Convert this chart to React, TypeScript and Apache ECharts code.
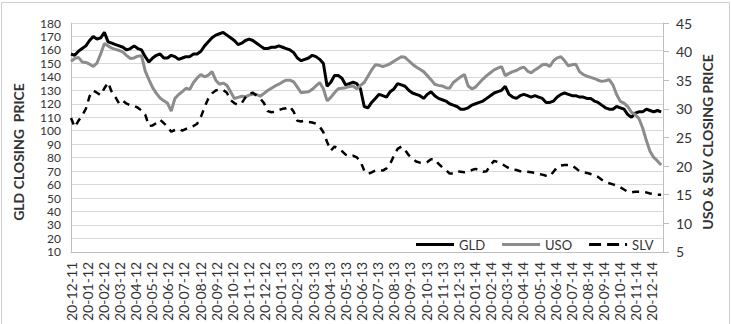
import React, { useEffect, useRef } from "react";
import * as echarts from "echarts";

// Tick labels (DD-MM-YY), one per month
const X_LABELS = [
  "20-12-11", "20-01-12", "20-02-12", "20-03-12", "20-04-12", "20-05-12", "20-06-12",
  "20-07-12", "20-08-12", "20-09-12", "20-10-12", "20-11-12", "20-12-12", "20-01-13",
  "20-02-13", "20-03-13", "20-04-13", "20-05-13", "20-06-13", "20-07-13", "20-08-13",
  "20-09-13", "20-10-13", "20-11-13", "20-12-13", "20-01-14", "20-02-14", "20-03-14",
  "20-04-14", "20-05-14", "20-06-14", "20-07-14", "20-08-14", "20-09-14", "20-10-14",
  "20-11-14", "20-12-14",
];

// Weekly closing prices starting 20 Dec 2011
const GLD = [
  157, 156, 159, 161, 163, 167, 170, 168, 169, 173,
  166, 165, 164, 163, 162, 160, 161, 163, 161, 160,
  155, 151, 154, 156, 157, 154, 154, 156, 155, 153,
  154, 155, 155, 157, 157, 159, 163, 166, 169, 171,
  172, 173, 171, 169, 167, 164, 165, 167, 168, 167,
  165, 163, 161, 161, 162, 162, 163, 162, 161, 160,
  158, 154, 152, 153, 154, 156, 155, 153, 150, 133,
  136, 141, 141, 139, 134, 135, 136, 135, 131, 118,
  117, 121, 124, 127, 126, 125, 129, 131, 135, 134,
  133, 130, 128, 127, 126, 124, 127, 129, 126, 124,
  123, 122, 120, 119, 118, 116, 116, 117, 119, 120,
  121, 122, 124, 126, 128, 129, 130, 133, 127, 125,
  124, 126, 127, 126, 125, 126, 125, 124, 121, 121,
  122, 125, 127, 128, 127, 126, 126, 125, 125, 124,
  124, 122, 121, 119, 117, 116, 116, 118, 117, 116,
  112, 110, 113, 114, 114, 116, 115, 114, 115, 114,
];

const USO = [
  38.3, 38.8, 39.0, 38.2, 38.1, 37.8, 37.4, 38.0, 39.6, 41.4,
  41.0, 40.6, 40.4, 40.2, 39.9, 39.3, 38.8, 38.9, 39.2, 39.3,
  36.6, 35.1, 33.7, 32.7, 31.9, 31.4, 31.0, 29.6, 31.8, 32.5,
  33.0, 33.6, 33.4, 34.6, 35.4, 36.0, 35.6, 35.9, 36.5, 35.0,
  34.3, 34.5, 34.1, 33.0, 31.8, 32.0, 32.2, 32.1, 32.4, 32.6,
  32.5, 32.2, 32.7, 33.2, 33.6, 34.0, 34.3, 34.7, 35.0, 35.0,
  34.7, 33.8, 32.8, 32.9, 33.0, 33.4, 34.0, 34.6, 33.5, 31.4,
  32.0, 32.8, 33.5, 33.6, 33.7, 33.9, 34.0, 33.5, 34.1, 34.6,
  35.7, 36.8, 37.7, 37.6, 37.4, 37.6, 37.9, 38.3, 38.7, 39.1,
  39.0, 38.4, 37.8, 37.3, 36.9, 36.5, 35.8, 35.1, 34.3, 34.1,
  34.0, 33.7, 33.6, 34.6, 35.1, 35.6, 36.0, 34.0, 33.5, 33.8,
  34.5, 35.2, 35.8, 36.3, 36.8, 37.1, 37.4, 35.8, 36.2, 36.5,
  36.7, 37.1, 37.3, 36.6, 36.3, 36.8, 37.2, 37.7, 37.8, 37.4,
  38.4, 38.9, 39.1, 38.4, 37.5, 37.7, 37.8, 36.5, 36.0, 35.7,
  35.5, 35.3, 35.0, 34.8, 34.9, 35.1, 34.2, 32.5, 31.3, 31.0,
  30.4, 29.4, 29.0, 28.3, 26.7, 24.5, 22.6, 21.5, 20.9, 20.2,
];

const SLV = [
  28.4, 26.8, 27.9, 28.8, 30.0, 32.2, 33.2, 32.8, 32.4, 33.6,
  34.6, 32.9, 32.0, 30.9, 31.4, 30.9, 30.6, 30.5, 30.2, 29.7,
  29.0, 27.0, 27.1, 27.5, 28.1, 27.5, 26.9, 26.0, 26.3, 26.5,
  26.2, 26.5, 26.8, 27.0, 27.4, 28.6, 30.3, 31.8, 32.7, 33.2,
  33.4, 33.3, 32.8, 31.5, 31.0, 30.7, 31.0, 32.0, 32.7, 32.8,
  32.3, 31.8, 31.0, 29.6, 29.4, 29.5, 29.8, 30.0, 30.1, 30.4,
  29.5, 27.9, 27.8, 27.9, 27.7, 27.6, 27.4, 26.9, 25.9, 24.2,
  22.7, 23.4, 23.0, 22.6, 22.0, 21.7, 21.8, 21.5, 20.8, 19.2,
  18.6, 18.9, 19.2, 19.3, 19.2, 19.6, 20.4, 21.8, 23.0, 23.4,
  22.8, 21.9, 21.3, 20.8, 20.6, 20.5, 20.7, 21.2, 21.2, 20.4,
  19.8, 19.3, 18.7, 18.7, 19.1, 19.0, 18.9, 19.0, 19.3, 19.5,
  19.3, 19.0, 19.1, 20.2, 20.9, 20.7, 20.4, 20.0, 19.6, 19.4,
  19.3, 19.1, 19.1, 19.0, 18.9, 18.8, 18.6, 18.5, 18.3, 18.2,
  19.0, 19.8, 20.1, 20.2, 20.2, 20.1, 19.6, 19.1, 18.9, 18.8,
  18.6, 18.4, 18.1, 17.6, 17.2, 17.0, 16.8, 16.6, 16.3, 15.9,
  15.5, 15.4, 15.5, 15.5, 15.5, 15.4, 15.2, 15.1, 15.0, 15.0,
];

const FONT = "Lato, 'Open Sans', sans-serif";
const TEXT = "#333333";
const MONTH_DAYS = 30.4375; // average month length in days
const DAY_SPAN = 1116.5; // days shown on the axis, from 20 Dec 2011

function xLabel(v: number): string {
  const k = Math.round(v / MONTH_DAYS);
  if (Math.abs(v - k * MONTH_DAYS) > 0.5) return "";
  return X_LABELS[k] ?? "";
}

export default function App() {
  const ref = useRef<HTMLDivElement>(null);
  useEffect(() => {
    if (!ref.current) return;
    const chart = echarts.init(ref.current, undefined, { renderer: "svg" });
    const option: any = {
      animation: false,
      backgroundColor: "#ffffff",
      grid: { left: 71, right: 68, top: 23, height: 238, containLabel: false },
      legend: {
        left: 411,
        top: 233,
        itemWidth: 38,
        itemHeight: 3,
        itemGap: 17,
        textStyle: { fontSize: 13, color: TEXT, fontFamily: FONT },
        data: [
          { name: "GLD", icon: "path://M0,0H38V3H0Z" },
          { name: "USO", icon: "path://M0,0H38V3H0Z" },
          { name: "SLV", icon: "path://M0,0H12V3H0ZM18,0H30V3H18ZM36,0H38V3H36Z" },
        ],
      },
      xAxis: {
        type: "value",
        min: 0,
        max: DAY_SPAN,
        interval: MONTH_DAYS,
        axisLine: { show: true, onZero: false, lineStyle: { color: "#bfbfbf", width: 1 } },
        axisTick: { show: false },
        splitLine: { show: false },
        axisLabel: {
          rotate: 90,
          margin: 10,
          fontSize: 14,
          lineHeight: 14,
          color: TEXT,
          fontFamily: FONT,
          formatter: (v: number) => xLabel(v),
          showMinLabel: true,
          showMaxLabel: false,
          hideOverlap: false,
        },
      },
      yAxis: [
        {
          type: "value",
          min: 10,
          max: 180,
          interval: 10,
          axisLine: { show: true, lineStyle: { color: "#bfbfbf", width: 1 } },
          axisTick: { show: false },
          splitLine: { show: true, lineStyle: { color: "#d9d9d9", width: 1 } },
          axisLabel: { fontSize: 12, lineHeight: 12, color: TEXT, fontFamily: FONT, margin: 10 },
        },
        {
          type: "value",
          position: "right",
          min: 5,
          max: 45,
          interval: 5,
          axisLine: { show: true, lineStyle: { color: "#bfbfbf", width: 1 } },
          axisTick: { show: true, inside: false, length: 6, lineStyle: { color: "#bfbfbf" } },
          splitLine: { show: false },
          axisLabel: { fontSize: 14, color: TEXT, fontFamily: FONT, margin: 13 },
        },
      ],
      graphic: [
        {
          type: "rect",
          shape: { x: 1.5, y: 2.5, width: 728, height: 340 },
          style: { fill: "none", stroke: "#d0d0d0", lineWidth: 1 },
          silent: true,
        },
        {
          type: "text",
          x: 18,
          y: 152,
          rotation: Math.PI / 2,
          style: {
            text: "GLD CLOSING  PRICE",
            fontSize: 14,
            fontWeight: "bold",
            fontFamily: FONT,
            fill: TEXT,
            align: "center",
            verticalAlign: "middle",
          },
        },
        {
          type: "text",
          x: 707,
          y: 142,
          rotation: Math.PI / 2,
          style: {
            text: "USO & SLV CLOSING PRICE",
            fontSize: 14,
            fontWeight: "bold",
            fontFamily: FONT,
            fill: TEXT,
            align: "center",
            verticalAlign: "middle",
          },
        },
      ],
      series: [
        {
          name: "GLD",
          type: "line",
          yAxisIndex: 0,
          symbol: "none",
          data: GLD.map((v, i) => [7 * i, v]),
          itemStyle: { color: "#000000" },
          lineStyle: { color: "#000000", width: 3 },
        },
        {
          name: "USO",
          type: "line",
          yAxisIndex: 1,
          symbol: "none",
          data: USO.map((v, i) => [7 * i, v]),
          itemStyle: { color: "#8c8c8c" },
          lineStyle: { color: "#8c8c8c", width: 3 },
        },
        {
          name: "SLV",
          type: "line",
          yAxisIndex: 1,
          symbol: "none",
          data: SLV.map((v, i) => [7 * i, v]),
          itemStyle: { color: "#000000" },
          lineStyle: { color: "#000000", width: 2.5, type: [7, 6] },
        },
      ],
    };
    chart.setOption(option);
    return () => chart.dispose();
  }, []);
  return (
    <div
      ref={ref}
      style={{ position: "absolute", left: 0, top: 0, width: 731, height: 324 }}
    />
  );
}
